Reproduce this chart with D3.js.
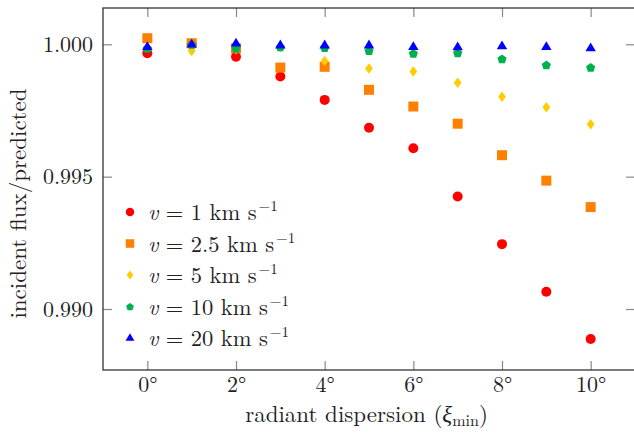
<!DOCTYPE html>
<html><head><meta charset="utf-8">
<script src="https://cdn.jsdelivr.net/npm/d3@7"></script>
<style>
body{margin:0;background:#fff;}
</style></head>
<body><svg id="c" width="634" height="435"></svg>
<script>
const xs = [0,1,2,3,4,5,6,7,8,9,10];
const v1   = [0.99966,1.00000,0.99953,0.99878,0.99790,0.99685,0.99607,0.99425,0.99245,0.99065,0.98887];
const v2_5 = [1.00023,1.00004,0.99985,0.99912,0.99915,0.99828,0.99765,0.99700,0.99581,0.99485,0.99385];
const v5   = [0.99990,0.99975,0.99981,0.99990,0.99937,0.99909,0.99897,0.99855,0.99802,0.99762,0.99698];
const v10  = [0.99985,1.00000,0.99985,0.99990,0.99988,0.99976,0.99966,0.99968,0.99945,0.99922,0.99913];
const v20  = [0.99991,1.00000,1.00004,0.99997,0.99997,0.99997,0.99991,0.99990,0.99994,0.99991,0.99986];
const seriesNames = ["1","2.5","5","10","20"];
const xTicks = [0,2,4,6,8,10];
const yTicks = [0.990,0.995,1.000];

const series = [
  {name:seriesNames[0], vals:v1,   color:"#ff0000", shape:"circle"},
  {name:seriesNames[1], vals:v2_5, color:"#ff8000", shape:"square"},
  {name:seriesNames[2], vals:v5,   color:"#ffcc00", shape:"diamond"},
  {name:seriesNames[3], vals:v10,  color:"#00b050", shape:"pentagon"},
  {name:seriesNames[4], vals:v20,  color:"#0000ff", shape:"triangle"}
];

const FONT = "Latin Modern Roman";
const FS = 22, LFS = 22.5, AFS = 23;
const L=103, R=635, T=8, B=370;
const x = d3.scaleLinear().domain([-1,11]).range([L,R]);
const y = d3.scaleLinear().domain([0.987696,1.001371]).range([B,T]);
const svg = d3.select("#c");

function shapePath(shape, s){
  if(shape==="circle"){ return d3.symbol().type(d3.symbolCircle).size(Math.PI*s*s)(); }
  if(shape==="square"){ return `M${-s},${-s}H${s}V${s}H${-s}Z`; }
  if(shape==="diamond"){ const w=s*0.78, h=s*1.05; return `M0,${-h}L${w},0L0,${h}L${-w},0Z`; }
  if(shape==="pentagon"){ let p=[]; for(let i=0;i<5;i++){const a=-Math.PI/2+i*2*Math.PI/5; p.push([s*1.05*Math.cos(a), s*1.05*Math.sin(a)+0.5]);} return "M"+p.map(q=>q.join(",")).join("L")+"Z"; }
  if(shape==="triangle"){ const h=s*1.1; return `M0,${-h}L${h*0.95},${h*0.6}L${-h*0.95},${h*0.6}Z`; }
}
const markerSize = {circle:5, square:5, diamond:5, pentagon:4.6, triangle:5};

// axes
const gx = svg.append("g").attr("transform",`translate(0,${B})`)
  .call(d3.axisBottom(x).tickValues(xTicks).tickSizeInner(-9).tickSizeOuter(0).tickPadding(6).tickFormat(d=>d+"°"));
const gxt = svg.append("g").attr("transform",`translate(0,${T})`)
  .call(d3.axisTop(x).tickValues(xTicks).tickSizeInner(-9).tickSizeOuter(0).tickFormat(""));
const gy = svg.append("g").attr("transform",`translate(${L},0)`)
  .call(d3.axisLeft(y).tickValues(yTicks).tickSizeInner(-9).tickSizeOuter(0).tickPadding(10).tickFormat(d3.format(".3f")));
const gyr = svg.append("g").attr("transform",`translate(${R},0)`)
  .call(d3.axisRight(y).tickValues(yTicks).tickSizeInner(-9).tickSizeOuter(0).tickFormat(""));
[gx,gxt,gy,gyr].forEach(g=>{
  g.select(".domain").remove();
  g.selectAll(".tick line").attr("stroke","#888").attr("stroke-width",1.2);
  g.selectAll(".tick text").attr("font-size",FS+"px").attr("fill","#222").style("font-family",`"${FONT}"`);
});
svg.append("rect").attr("x",L).attr("y",T).attr("width",R-L).attr("height",B-T)
  .attr("fill","none").attr("stroke","#333").attr("stroke-width",1.3);

// points
series.forEach(s=>{
  svg.append("g").selectAll("path").data(s.vals).join("path")
    .attr("d", shapePath(s.shape, markerSize[s.shape]))
    .attr("transform",(d,i)=>`translate(${x(xs[i])},${y(d)})`)
    .attr("fill",s.color);
});

// legend
const lg = svg.append("g");
series.forEach((s,i)=>{
  const yy = 212 + i*31.5;
  lg.append("path").attr("d",shapePath(s.shape, markerSize[s.shape]*0.85))
    .attr("transform",`translate(130,${yy})`).attr("fill",s.color);
  const t = lg.append("text").attr("x",148).attr("y",yy+8).attr("font-size",LFS+"px")
    .style("font-family",`"${FONT}"`).attr("fill","#222");
  t.append("tspan").attr("font-style","italic").text("v");
  t.append("tspan").text(" = "+s.name+" km s");
  t.append("tspan").attr("dy",-9).attr("dx",2).attr("font-size","15px").text("−1");
});

// axis labels
svg.append("text").attr("transform","translate(26,203.5) rotate(-90)").attr("text-anchor","middle")
  .attr("font-size",AFS+"px").style("font-family",`"${FONT}"`).attr("fill","#222").text("incident flux/predicted");
const xl = svg.append("text").attr("x",366.5).attr("y",422).attr("text-anchor","middle")
  .attr("font-size",AFS+"px").style("font-family",`"${FONT}"`).attr("fill","#222");
xl.append("tspan").text("radiant dispersion (");
xl.append("tspan").attr("font-style","italic").text("ξ");
xl.append("tspan").attr("dy",4).attr("font-size","16px").text("min");
xl.append("tspan").attr("dy",-4).text(")");
</script></body></html>
